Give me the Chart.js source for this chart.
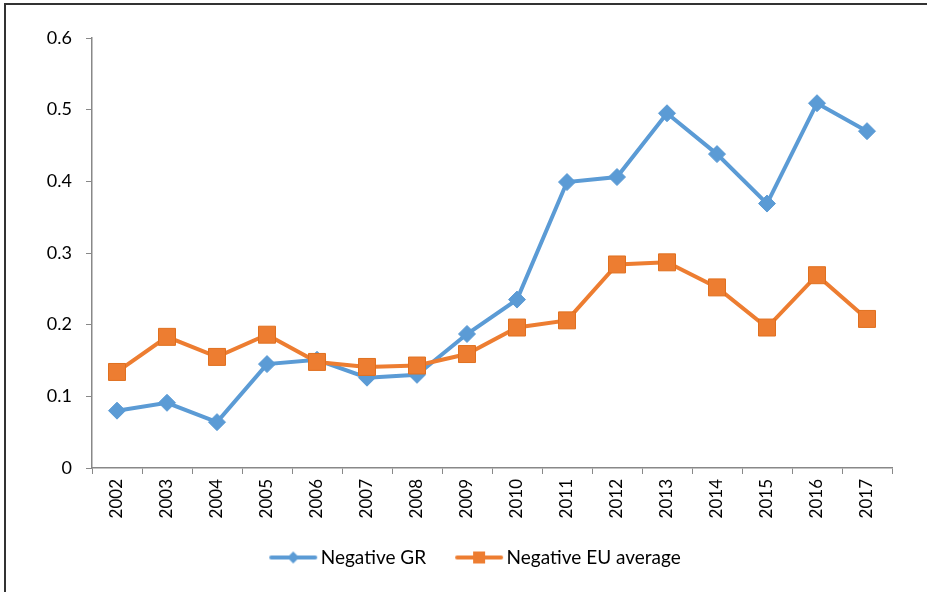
<!DOCTYPE html>
<html><head><meta charset="utf-8">
<script src="https://cdn.jsdelivr.net/npm/chart.js@4/dist/chart.umd.min.js"></script>
<style>
html,body{margin:0;padding:0;background:#fff;}
#wrap{position:relative;width:927px;height:592px;overflow:hidden;}
#frame{position:absolute;left:4px;top:3px;width:1000px;height:1000px;border:2px solid #333;box-sizing:border-box;}
canvas{position:absolute;left:0;top:0;}
</style></head>
<body><div id="wrap"><div id="frame"></div><canvas id="c" width="927" height="592"></canvas></div>
<script>
const categories = ['2002','2003','2004','2005','2006','2007','2008','2009','2010','2011','2012','2013','2014','2015','2016','2017'];
const negativeGR = [0.080,0.091,0.064,0.145,0.151,0.126,0.130,0.187,0.235,0.399,0.406,0.495,0.438,0.369,0.509,0.470];
const negativeEU = [0.134,0.183,0.155,0.186,0.148,0.141,0.143,0.159,0.196,0.206,0.284,0.287,0.252,0.196,0.269,0.208];
const seriesNames = ['Negative GR','Negative EU average'];
const yTicks = [0,0.1,0.2,0.3,0.4,0.5,0.6];

const BLUE = '#5B9BD5', ORANGE = '#ED7D31';
const FONT = 'Lato, "Open Sans", sans-serif';

function legendIcon(color, shape){
  const c = document.createElement('canvas');
  c.width = 60; c.height = 18;
  const g = c.getContext('2d');
  g.strokeStyle = color; g.lineWidth = 4; g.lineCap = 'round';
  g.beginPath(); g.moveTo(13,9); g.lineTo(57,9); g.stroke();
  g.fillStyle = color;
  const cx = 35;
  if (shape === 'diamond'){
    g.beginPath(); g.moveTo(cx,3); g.lineTo(cx+6,9); g.lineTo(cx,15); g.lineTo(cx-6,9); g.closePath(); g.fill();
  } else {
    g.fillRect(cx-6,3,12,12);
  }
  return c;
}
const iconGR = legendIcon(BLUE,'diamond');
const iconEU = legendIcon(ORANGE,'square');

const shiftLegend = {
  id: 'shiftLegend',
  afterLayout(chart){ if (chart.legend){ chart.legend.left += 17; chart.legend.right += 17; } }
};

new Chart(document.getElementById('c'), {
  type: 'line',
  data: {
    labels: categories,
    datasets: [
      { label: seriesNames[0], data: negativeGR, borderColor: BLUE, backgroundColor: BLUE,
        borderWidth: 4, pointStyle: 'rectRot', pointRadius: 8.5, pointBorderWidth: 1,
        pointBorderColor: BLUE, pointBackgroundColor: BLUE, tension: 0, order: 2 },
      { label: seriesNames[1], data: negativeEU, borderColor: ORANGE, backgroundColor: ORANGE,
        borderWidth: 4, pointStyle: 'rect', pointRadius: 12, pointBorderWidth: 1,
        pointBorderColor: '#E0701F', pointBackgroundColor: ORANGE, tension: 0, order: 1 }
    ]
  },
  plugins: [shiftLegend],
  options: {
    responsive: false, animation: false, devicePixelRatio: 1,
    layout: { padding: { left: 20, right: 35, top: 38, bottom: 15 } },
    plugins: {
      tooltip: { enabled: false },
      legend: {
        position: 'bottom',
        labels: {
          usePointStyle: true,
          pointStyleWidth: 46,
          sort: (a,b) => a.datasetIndex - b.datasetIndex,
          generateLabels: (chart) => chart.data.datasets.map((d,i) => ({
            text: d.label, pointStyle: i === 0 ? iconGR : iconEU, datasetIndex: i,
            fillStyle: d.borderColor, strokeStyle: d.borderColor, lineWidth: 0, hidden: false, fontColor: '#000'
          })),
          color: '#000', font: { family: FONT, size: 19 }, padding: 25, boxWidth: 46, boxHeight: 18
        }
      }
    },
    scales: {
      x: {
        offset: true,
        grid: { display: true, drawOnChartArea: false, offset: true, tickLength: 6, color: '#888', lineWidth: 1 },
        border: { display: true, color: '#888', width: 1.5 },
        ticks: { color: '#000', font: { family: FONT, size: 17 }, maxRotation: 90, minRotation: 90, padding: 5 },
        afterFit: (s) => { s.height = 55; }
      },
      y: {
        min: 0, max: 0.6,
        afterBuildTicks: (s) => { s.ticks = yTicks.map(v => ({ value: v })); },
        grid: { display: true, drawOnChartArea: false, tickLength: 6, color: '#888', lineWidth: 1 },
        border: { display: true, color: '#888', width: 1.5 },
        ticks: { color: '#000', font: { family: FONT, size: 18 }, padding: 14,
                 callback: (v) => String(Math.round(v*10)/10) },
        afterFit: (s) => { s.width = 72; }
      }
    }
  }
});
</script></body></html>
